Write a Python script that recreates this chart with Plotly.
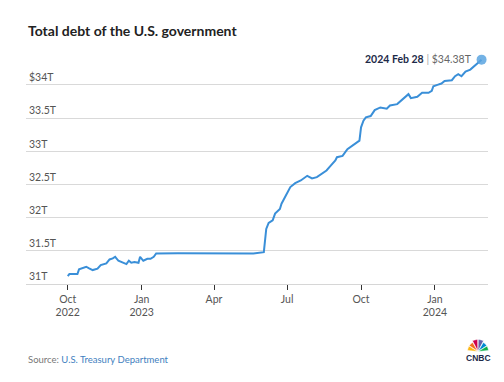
import math
import plotly.graph_objects as go

# ---- data ----
dates = [
    "2022-10-01", "2022-10-03", "2022-10-07", "2022-10-13", "2022-10-15", "2022-10-19",
    "2022-10-24", "2022-10-27", "2022-11-01", "2022-11-07", "2022-11-11", "2022-11-18",
    "2022-11-22", "2022-11-26", "2022-11-29", "2022-12-03", "2022-12-09", "2022-12-13",
    "2022-12-16", "2022-12-19", "2022-12-23", "2022-12-28", "2022-12-30", "2023-01-03",
    "2023-01-08", "2023-01-12", "2023-01-16", "2023-01-19", "2023-02-15", "2023-03-20",
    "2023-04-25", "2023-05-20", "2023-06-02", "2023-06-05", "2023-06-08", "2023-06-13",
    "2023-06-16", "2023-06-22", "2023-06-24", "2023-06-28", "2023-07-05", "2023-07-11",
    "2023-07-18", "2023-07-26", "2023-08-01", "2023-08-07", "2023-08-13", "2023-08-19",
    "2023-08-24", "2023-08-30", "2023-09-01", "2023-09-08", "2023-09-14", "2023-09-20",
    "2023-09-27", "2023-09-29", "2023-10-01", "2023-10-04", "2023-10-07", "2023-10-13",
    "2023-10-18", "2023-10-25", "2023-11-02", "2023-11-06", "2023-11-15", "2023-11-23",
    "2023-11-29", "2023-12-02", "2023-12-10", "2023-12-16", "2023-12-24", "2023-12-28",
    "2023-12-30", "2024-01-04", "2024-01-09", "2024-01-13", "2024-01-22", "2024-01-26",
    "2024-01-30", "2024-02-03", "2024-02-08", "2024-02-14", "2024-02-20", "2024-02-24",
    "2024-02-28",
]
debt_trillions = [
    31.12, 31.15, 31.15, 31.15, 31.22, 31.24,
    31.26, 31.24, 31.21, 31.23, 31.285, 31.31,
    31.37, 31.385, 31.41, 31.35, 31.32, 31.30,
    31.35, 31.32, 31.33, 31.32, 31.41, 31.35,
    31.38, 31.38, 31.41, 31.46, 31.465, 31.46,
    31.465, 31.46, 31.48, 31.83, 31.92, 31.96,
    32.06, 32.13, 32.21, 32.31, 32.46, 32.52,
    32.56, 32.63, 32.59, 32.61, 32.66, 32.71,
    32.78, 32.86, 32.91, 32.93, 33.03, 33.08,
    33.13, 33.16, 33.36, 33.46, 33.51, 33.53,
    33.62, 33.66, 33.64, 33.69, 33.71, 33.79,
    33.86, 33.80, 33.82, 33.88, 33.88, 33.91,
    33.98, 34.00, 34.02, 34.06, 34.07, 34.13,
    34.16, 34.13, 34.20, 34.23, 34.29, 34.33,
    34.38,
]
y_tick_vals = [31, 31.5, 32, 32.5, 33, 33.5, 34]
y_tick_text = ["31T", "31.5T", "32T", "32.5T", "33T", "33.5T", "$34T"]
x_tick_vals = ["2022-10-01", "2023-01-01", "2023-04-01", "2023-07-01", "2023-10-01", "2024-01-01"]
x_tick_text = ["Oct<br>2022", "Jan<br>2023", "Apr", "Jul", "Oct", "Jan<br>2024"]
last_label_date = "2024 Feb 28"
last_label_value = "$34.38T"

# ---- layout geometry ----
W, H = 504, 382
L, R, T, B = 26, 16, 55, 98
PW, PH = W - L - R, H - T - B
FONT = "Lato"
LINE_COLOR = "#3a8fd8"


def px(x):
    return (x - L) / PW


def py(y):
    return (H - B - y) / PH


fig = go.Figure()
fig.add_trace(go.Scatter(
    x=dates, y=debt_trillions, mode="lines",
    line=dict(color=LINE_COLOR, width=2), hoverinfo="skip", cliponaxis=False,
))
fig.add_trace(go.Scatter(
    x=[dates[-1]], y=[debt_trillions[-1]], mode="markers",
    marker=dict(size=10, color="rgba(90,165,225,0.85)", line=dict(width=0)),
    hoverinfo="skip", cliponaxis=False,
))

fig.update_layout(
    width=W, height=H,
    margin=dict(l=L, r=R, t=T, b=B),
    paper_bgcolor="white", plot_bgcolor="white",
    showlegend=False,
    font=dict(family=FONT, size=10.5, color="#555555"),
    xaxis=dict(
        range=["2022-08-10", "2024-03-07"],
        tickvals=x_tick_vals, ticktext=x_tick_text,
        showgrid=False, zeroline=False,
        showline=True, linecolor="#d6d6d6", linewidth=1,
        ticks="outside", ticklen=5, tickcolor="#333333", tickwidth=1,
        tickfont=dict(size=10.5, color="#555555"),
        fixedrange=True,
    ),
    yaxis=dict(
        range=[31, 34.45],
        tickvals=y_tick_vals, ticktext=y_tick_text,
        ticklabelposition="inside top",
        showgrid=True, gridcolor="#d9d9d9", gridwidth=1,
        zeroline=False, showline=False, ticks="",
        tickfont=dict(size=10.5, color="#555555"),
        fixedrange=True,
    ),
)

fig.add_annotation(text="<b>Total debt of the U.S. government</b>",
                   xref="paper", yref="paper", x=px(26), y=py(31),
                   xanchor="left", yanchor="middle", showarrow=False,
                   font=dict(size=14, color="#222222"))
fig.add_annotation(text=f"<b><span style='color:#1d2a48'>{last_label_date}</span></b>"
                        f"<span style='color:#aaaaaa'> | </span>"
                        f"<span style='color:#666666'>{last_label_value}</span>",
                   xref="paper", yref="paper", x=px(474), y=py(59),
                   xanchor="right", yanchor="middle", showarrow=False,
                   font=dict(size=10.5))
fig.add_annotation(text="Source: <span style='color:#3f7fc0'>U.S. Treasury Department</span>",
                   xref="paper", yref="paper", x=px(26), y=py(359),
                   xanchor="left", yanchor="middle", showarrow=False,
                   font=dict(size=9.5, color="#777777"))
fig.add_annotation(text="<b>CNBC</b>", xref="paper", yref="paper",
                   x=px(478), y=py(358), xanchor="center", yanchor="middle",
                   showarrow=False, font=dict(size=8.5, color="#1d2a48", family="Arial"))

# CNBC peacock logo (decorative)
feather_colors = ["#fcb711", "#f37021", "#cc004c", "#6460aa", "#0089d0", "#0db14b"]
cx, cy = 478, 351.5
for i, col in enumerate(feather_colors):
    ang = math.radians(162 - i * 28.8)
    rad = 12 if i in (2, 3) else 10.5
    pts = []
    for k in range(9):
        a = ang + math.radians(-13 + 26 * k / 8)
        pts.append((cx + rad * math.cos(a), cy - rad * math.sin(a)))
    path = f"M {px(cx)},{py(cy)} " + " ".join(f"L {px(x)},{py(y)}" for x, y in pts) + " Z"
    fig.add_shape(type="path", path=path, xref="paper", yref="paper",
                  fillcolor=col, line=dict(width=0.6, color="white"))

fig.write_html("out.html", config={"displayModeBar": False},
               post_script="document.body.style.margin='0';")
